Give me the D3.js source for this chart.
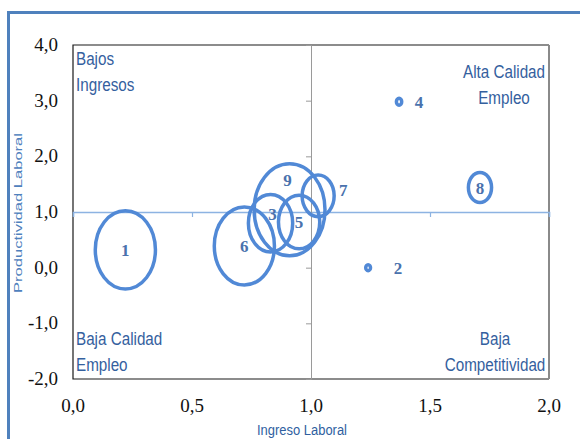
<!DOCTYPE html>
<html>
<head>
<meta charset="utf-8">
<script src="https://cdn.jsdelivr.net/npm/d3@7"></script>
<style>
  html, body { margin: 0; padding: 0; background: #fff; }
  svg { display: block; }
</style>
</head>
<body>
<svg id="chart" width="580" height="439"></svg>
<script>
// Bubble data: id, labour income (x), labour productivity (y), bubble size
const ids          = ["1", "2", "3", "4", "5", "6", "7", "8", "9"];
const ingreso      = [0.22, 1.24, 0.83, 1.37, 0.95, 0.72, 1.03, 1.71, 0.91];
const productividad= [0.32, 0.00, 0.80, 2.98, 0.82, 0.39, 1.29, 1.44, 1.04];
const tamano       = [15.5, 0.09, 8.4, 0.12, 7.3, 15.5, 4.4, 2.3, 21.5];

const xTicks = [0, 0.5, 1.0, 1.5, 2.0];
const yTicks = [-2, -1, 0, 1, 2, 3, 4];

const quadrantLabels = [
  { lines: ["Bajos", "Ingresos"], corner: "tl" },
  { lines: ["Alta Calidad", "Empleo"], corner: "tr" },
  { lines: ["Baja Calidad", "Empleo"], corner: "bl" },
  { lines: ["Baja", "Competitividad"], corner: "br" }
];

const svg = d3.select("#chart");
const W = 580, H = 439;
const plot = { left: 73, top: 45, right: 549, bottom: 379 };

const x = d3.scaleLinear().domain([0, 2]).range([plot.left, plot.right]);
const y = d3.scaleLinear().domain([-2, 4]).range([plot.bottom, plot.top]);
// bubble radius (vertical) proportional to sqrt of size; horizontally narrower
const r = d3.scaleSqrt().domain([0, 21.5]).range([0, 46]);
const aspect = 0.77;

const fmt = v => d3.format(".1f")(v).replace(".", ",").replace("\u2212", "-");
const blue = "#5189d6";
const textBlue = "#34609e";

// outer frame
svg.append("path")
  .attr("d", `M8.5,${H} L8.5,12.5 L${W},12.5`)
  .attr("fill", "none").attr("stroke", "#4f81bd").attr("stroke-width", 3);

// plot area border
svg.append("path")
  .attr("d", `M${plot.right},${plot.top} L${plot.left},${plot.top} L${plot.left},${plot.bottom} L${plot.right},${plot.bottom}`)
  .attr("fill", "none").attr("stroke", "#1a1a1a").attr("stroke-width", 1.2);
svg.append("line")
  .attr("x1", plot.right).attr("x2", plot.right)
  .attr("y1", plot.top).attr("y2", plot.bottom)
  .attr("stroke", "#8a8a8a").attr("stroke-width", 2);

// horizontal axis crossing at y = 1
const xAxisG = svg.append("g")
  .attr("transform", `translate(0,${y(1)})`)
  .call(d3.axisBottom(x).tickValues(xTicks).tickSize(5).tickFormat(""));
xAxisG.select(".domain").attr("stroke", "#8db3e2").attr("stroke-width", 1.5);
xAxisG.selectAll(".tick line").attr("stroke", "#8db3e2").attr("stroke-width", 1.2);

// vertical axis crossing at x = 1
const yAxisG = svg.append("g")
  .attr("transform", `translate(${x(1)},0)`)
  .call(d3.axisLeft(y).tickValues(yTicks).tickSize(5).tickFormat(""));
yAxisG.select(".domain").attr("stroke", "#9a9a9a").attr("stroke-width", 1);
yAxisG.selectAll(".tick line").attr("stroke", "#9a9a9a").attr("stroke-width", 1);

// tick labels along the outside of the plot area
svg.append("g").selectAll("text").data(xTicks).join("text")
  .attr("x", d => x(d)).attr("y", plot.bottom + 33)
  .attr("text-anchor", "middle")
  .attr("font-family", "'Liberation Serif', 'Times New Roman', serif")
  .attr("font-size", 19).attr("fill", "#111")
  .text(fmt);
svg.append("g").selectAll("text").data(yTicks).join("text")
  .attr("x", plot.left - 15).attr("y", d => y(d) + 6)
  .attr("text-anchor", "end")
  .attr("font-family", "'Liberation Serif', 'Times New Roman', serif")
  .attr("font-size", 19).attr("fill", "#111")
  .text(fmt);

// axis titles
svg.append("text")
  .attr("transform", `translate(22,${(plot.top + plot.bottom) / 2 + 1}) rotate(-90)`)
  .attr("text-anchor", "middle")
  .attr("font-family", "'Liberation Sans', Arial, sans-serif")
  .attr("font-size", 11.5).attr("fill", "#4f81bd")
  .attr("textLength", 160).attr("lengthAdjust", "spacingAndGlyphs")
  .text("Productividad  Laboral");
svg.append("text")
  .attr("x", 302).attr("y", 435)
  .attr("text-anchor", "middle")
  .attr("font-family", "'Liberation Sans', Arial, sans-serif")
  .attr("font-size", 14).attr("fill", "#2f5f9f")
  .attr("textLength", 90).attr("lengthAdjust", "spacingAndGlyphs")
  .text("Ingreso Laboral");

// quadrant captions (condensed horizontally)
const qFont = "'Liberation Sans Narrow', 'Liberation Sans', sans-serif";
const qScale = 0.87;
const qPos = {
  tl: { x: plot.left + 3, y: 65, anchor: "start" },
  tr: { x: 504, y: 78, anchor: "middle" },
  bl: { x: plot.left + 3, y: 345, anchor: "start" },
  br: { x: 495, y: 345, anchor: "middle" }
};
quadrantLabels.forEach(q => {
  const p = qPos[q.corner];
  const t = svg.append("text")
    .attr("transform", `translate(${p.x},0) scale(${qScale},1)`)
    .attr("font-family", qFont).attr("font-size", 17.5)
    .attr("fill", textBlue).attr("text-anchor", p.anchor);
  q.lines.forEach((line, i) => {
    t.append("tspan").attr("x", 0).attr("y", p.y + i * 26).text(line);
  });
});

// bubbles
const bubbles = ids.map((id, i) => ({ id, x: ingreso[i], y: productividad[i], s: tamano[i] }));
svg.append("g").selectAll("ellipse").data(bubbles).join("ellipse")
  .attr("cx", d => x(d.x)).attr("cy", d => y(d.y))
  .attr("rx", d => Math.max(r(d.s) * aspect, 2.4))
  .attr("ry", d => Math.max(r(d.s), 2.8))
  .attr("fill", "none").attr("stroke", blue).attr("stroke-width", 3.5);

// bubble labels: centred inside large bubbles, offset for crowded/small ones
const labelOffset = { "2": [30, 0], "3": [2, -9], "4": [20, 0], "7": [25, -6], "9": [-2, -30] };
svg.append("g").selectAll("text").data(bubbles).join("text")
  .attr("x", d => x(d.x) + (labelOffset[d.id] ? labelOffset[d.id][0] : 0))
  .attr("y", d => y(d.y) + (labelOffset[d.id] ? labelOffset[d.id][1] : 0) + 6)
  .attr("text-anchor", "middle")
  .attr("font-family", "'Liberation Serif', 'Times New Roman', serif")
  .attr("font-weight", "bold")
  .attr("font-size", 17).attr("fill", "#4a72ad")
  .text(d => d.id);
</script>
</body>
</html>
